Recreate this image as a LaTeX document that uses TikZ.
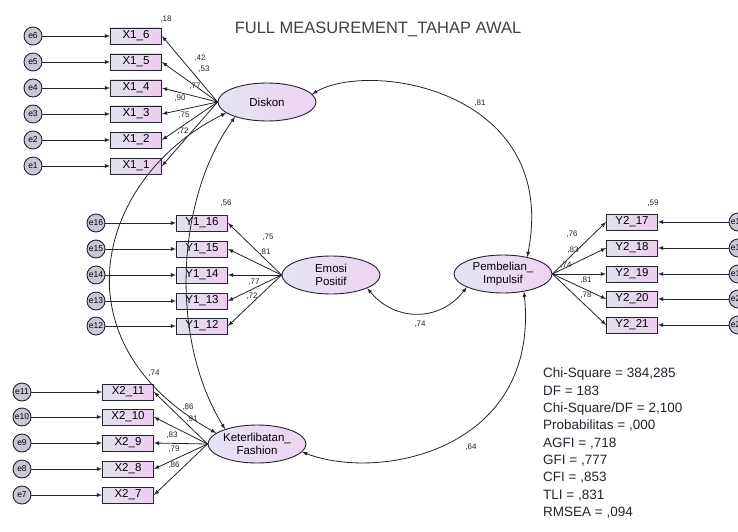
\documentclass[tikz,border=0pt]{standalone}
\usepackage{fontspec}
\setmainfont{Liberation Sans}
\usetikzlibrary{shapes.geometric}
\definecolor{boxl}{RGB}{226,226,236}
\definecolor{boxr}{RGB}{236,206,240}
\definecolor{latl}{RGB}{228,228,242}
\definecolor{latr}{RGB}{238,212,242}
\definecolor{errfill}{RGB}{200,200,214}
\definecolor{ink}{RGB}{35,35,45}

\begin{document}
\begin{tikzpicture}[x=1pt,y=-1pt,line cap=round,line join=round,>=latex,
  obs/.style={draw=ink,line width=0.9pt,rectangle,minimum width=51pt,minimum height=16pt,inner sep=0pt,
    left color=boxl,right color=boxr,font=\fontsize{11.5}{12}\selectfont},
  lat/.style={draw=ink,line width=0.9pt,ellipse,minimum width=98pt,minimum height=38pt,inner sep=0pt,
    left color=latl,right color=latr,align=center,font=\fontsize{11.5}{13}\selectfont},
  err/.style={draw=ink,line width=0.9pt,circle,minimum size=18pt,inner sep=0pt,fill=errfill,
    font=\fontsize{8.5}{8.5}\selectfont},
  est/.style={inner sep=0pt,font=\fontsize{8}{8}\selectfont,text=ink},
  load/.style={draw=ink,line width=0.8pt,-latex},
  covar/.style={draw=ink,line width=0.8pt,latex-latex}]
  \useasboundingbox (0,0) rectangle (738,532);
  \clip (0,0) rectangle (738,532);
  \node[font=\fontsize{16.5}{17}\selectfont,text=black!75] (title) at (378,29) {FULL MEASUREMENT\_TAHAP AWAL};

  % latent variables
  \node[lat] (dsk) at (267,102) {Diskon};
  \node[lat] (emo) at (331,275) {Emosi\\Positif};
  \node[lat] (pi) at (503,274) {Pembelian\_\\Impulsif};
  \node[lat] (kf) at (257,444) {Keterlibatan\_\\Fashion};

  % Diskon indicators
  \node[obs] (x16) at (136,36) {X1\_6};
  \node[obs] (x15) at (136,62) {X1\_5};
  \node[obs] (x14) at (136,88) {X1\_4};
  \node[obs] (x13) at (136,114) {X1\_3};
  \node[obs] (x12) at (136,140) {X1\_2};
  \node[obs] (x11) at (136,166) {X1\_1};
  \node[err] (e6) at (33,36) {e6};
  \node[err] (e5) at (33,62) {e5};
  \node[err] (e4) at (33,88) {e4};
  \node[err] (e3) at (33,114) {e3};
  \node[err] (e2) at (33,140) {e2};
  \node[err] (e1) at (33,166) {e1};

  % Emosi Positif indicators
  \node[obs] (y116) at (202,223) {Y1\_16};
  \node[obs] (y115) at (202,249) {Y1\_15};
  \node[obs] (y114) at (202,275) {Y1\_14};
  \node[obs] (y113) at (202,301) {Y1\_13};
  \node[obs] (y112) at (202,326) {Y1\_12};
  \node[err] (e16) at (96,223) {e16};
  \node[err] (e15) at (96,249) {e15};
  \node[err] (e14) at (96,275) {e14};
  \node[err] (e13) at (96,301) {e13};
  \node[err] (e12) at (96,326) {e12};

  % Pembelian Impulsif indicators
  \node[obs] (y217) at (632,222) {Y2\_17};
  \node[obs] (y218) at (632,248) {Y2\_18};
  \node[obs] (y219) at (632,274) {Y2\_19};
  \node[obs] (y220) at (632,299) {Y2\_20};
  \node[obs] (y221) at (632,325) {Y2\_21};
  \node[err] (e17) at (738,222) {e17};
  \node[err] (e18) at (738,248) {e18};
  \node[err] (e19) at (738,274) {e19};
  \node[err] (e20) at (738,299) {e20};
  \node[err] (e21) at (738,325) {e21};

  % Keterlibatan Fashion indicators
  \node[obs] (x211) at (128,392) {X2\_11};
  \node[obs] (x210) at (128,417) {X2\_10};
  \node[obs] (x29) at (128,443) {X2\_9};
  \node[obs] (x28) at (128,469) {X2\_8};
  \node[obs] (x27) at (128,495) {X2\_7};
  \node[err] (e11) at (22,392) {e11};
  \node[err] (e10) at (22,417) {e10};
  \node[err] (e9) at (22,443) {e9};
  \node[err] (e8) at (22,469) {e8};
  \node[err] (e7) at (22,495) {e7};

  % error terms
  \draw[load] (e6) -- (x16);
  \draw[load] (e5) -- (x15);
  \draw[load] (e4) -- (x14);
  \draw[load] (e3) -- (x13);
  \draw[load] (e2) -- (x12);
  \draw[load] (e1) -- (x11);
  \draw[load] (e16) -- (y116);
  \draw[load] (e15) -- (y115);
  \draw[load] (e14) -- (y114);
  \draw[load] (e13) -- (y113);
  \draw[load] (e12) -- (y112);
  \draw[load] (e17) -- (y217);
  \draw[load] (e18) -- (y218);
  \draw[load] (e19) -- (y219);
  \draw[load] (e20) -- (y220);
  \draw[load] (e21) -- (y221);
  \draw[load] (e11) -- (x211);
  \draw[load] (e10) -- (x210);
  \draw[load] (e9) -- (x29);
  \draw[load] (e8) -- (x28);
  \draw[load] (e7) -- (x27);

  % loadings
  \draw[load] (dsk.west) -- (x16.east);
  \draw[load] (dsk.west) -- (x15.east);
  \draw[load] (dsk.west) -- (x14.east);
  \draw[load] (dsk.west) -- (x13.east);
  \draw[load] (dsk.west) -- (x12.east);
  \draw[load] (dsk.west) -- (x11.east);
  \draw[load] (emo.west) -- (y116.east);
  \draw[load] (emo.west) -- (y115.east);
  \draw[load] (emo.west) -- (y114.east);
  \draw[load] (emo.west) -- (y113.east);
  \draw[load] (emo.west) -- (y112.east);
  \draw[load] (pi.east) -- (y217.west);
  \draw[load] (pi.east) -- (y218.west);
  \draw[load] (pi.east) -- (y219.west);
  \draw[load] (pi.east) -- (y220.west);
  \draw[load] (pi.east) -- (y221.west);
  \draw[load] (kf.west) -- (x211.east);
  \draw[load] (kf.west) -- (x210.east);
  \draw[load] (kf.west) -- (x29.east);
  \draw[load] (kf.west) -- (x28.east);
  \draw[load] (kf.west) -- (x27.east);

  % correlations between the latent variables
  \draw[covar] (dsk.10) .. controls (370,60) and (560,90) .. (pi.35);
  \draw[covar] (dsk.195) .. controls (100,175) and (50,340) .. (kf.165);
  \draw[covar] (dsk.205) .. controls (175,200) and (170,340) .. (kf.155);
  \draw[covar] (emo.-20) .. controls (395,322) and (440,322) .. (pi.200);
  \draw[covar] (kf.-10) .. controls (380,482) and (540,450) .. (pi.-40);

  % estimates
  \node[est] (r16) at (166,19) {,18};
  \node[est] (l16) at (200,58) {,42};
  \node[est] (l15) at (204,69) {,53};
  \node[est] (l14) at (195,86) {,77};
  \node[est] (l13) at (180,98) {,90};
  \node[est] (l12) at (184,115) {,75};
  \node[est] (l11) at (183,131) {,72};
  \node[est] (rr116) at (226,203) {,56};
  \node[est] (m16) at (268,237) {,75};
  \node[est] (m15) at (265,252) {,81};
  \node[est] (m14) at (254,282) {,77};
  \node[est] (m13) at (252,296) {,72};
  \node[est] (rr217) at (653,203) {,59};
  \node[est] (p17) at (572,234) {,76};
  \node[est] (p18) at (573,250) {,83};
  \node[est] (p19) at (566,265) {,74};
  \node[est] (p20) at (586,280) {,81};
  \node[est] (p21) at (586,295) {,78};
  \node[est] (rr211) at (154,373) {,74};
  \node[est] (k11) at (188,407) {,86};
  \node[est] (k10) at (192,419) {,91};
  \node[est] (k9) at (172,435) {,83};
  \node[est] (k8) at (174,449) {,79};
  \node[est] (k7) at (174,465) {,86};
  \node[est] (c1) at (480,103) {,81};
  \node[est] (c2) at (420,324) {,74};
  \node[est] (c3) at (471,447) {,64};

  % fit indices
  \node[anchor=north west,align=left,inner sep=0pt,text=ink,font=\fontsize{13.5}{17.3}\selectfont] (fit) at (543,368)
    {Chi-Square = 384,285\\DF = 183\\Chi-Square/DF = 2,100\\Probabilitas = ,000\\AGFI = ,718\\GFI = ,777\\CFI = ,853\\TLI = ,831\\RMSEA = ,094};
\end{tikzpicture}
\end{document}
